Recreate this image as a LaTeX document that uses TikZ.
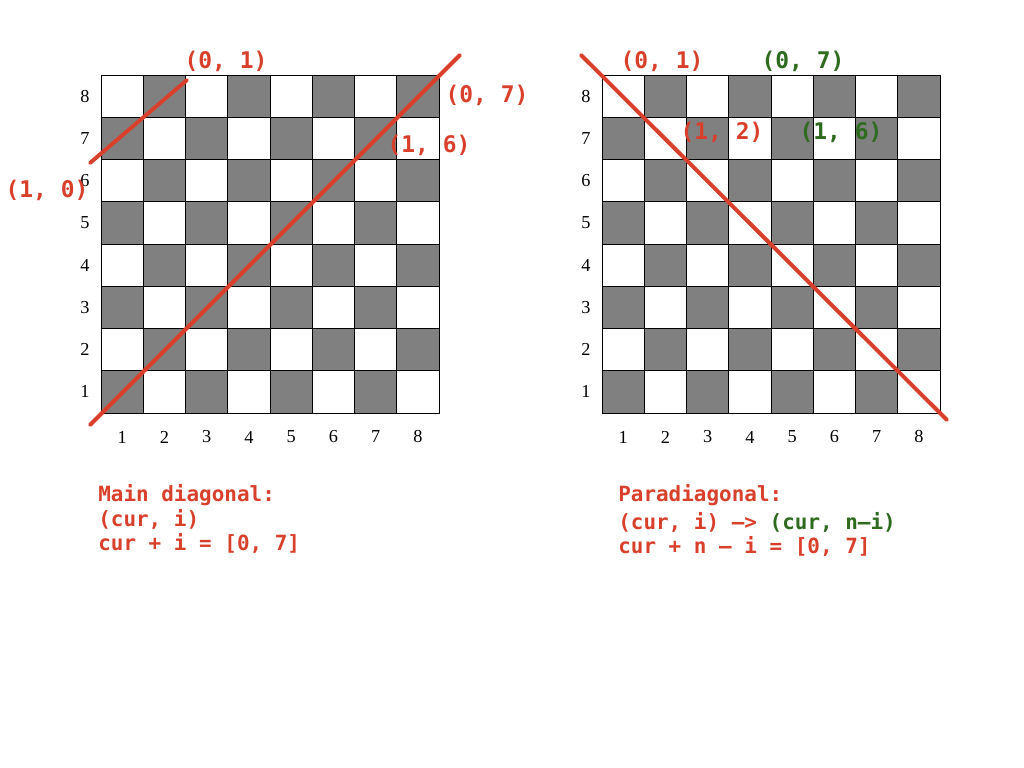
\documentclass[tikz,border=0pt]{standalone}
\usepackage{fontspec}
\setmainfont{Liberation Serif}
\setmonofont{DejaVu Sans Mono}
\usepackage{tikz}
\definecolor{rojo}{HTML}{D9402B}
\definecolor{verde}{HTML}{2E6B1E}
\definecolor{casilla}{HTML}{808080}

\begin{document}
\begin{tikzpicture}[
            x=0.025cm, y=-0.025cm,
            % Estilos
            celda/.style={draw=black, line width=0.6pt},
            num/.style={font=\fontsize{13}{15}\selectfont, inner sep=0pt},
            coord/.style={font=\fontsize{16.3}{18}\selectfont\ttfamily\bfseries, inner sep=0pt},
            nota/.style={font=\fontsize{14.9}{17}\selectfont\ttfamily\bfseries, inner sep=0pt, anchor=west},
            diag/.style={rojo, line width=2.8pt, line cap=round}
        ]
            \useasboundingbox (0,0) rectangle (1024,768);

            % Tableros de 8x8
            \foreach \ox/\tb in {101/a,602/b} {
                \foreach \c in {1,...,8} {
                    \foreach \r in {1,...,8} {
                        \pgfmathtruncatemacro\parity{mod(\c+\r,2)}
                        \ifnum\parity=0 \def\tono{casilla}\else\def\tono{white}\fi
                        \filldraw[celda, fill=\tono] ({\ox+(\c-1)*42.25},{413-(\r-1)*42.25}) rectangle ++(42.25,-42.25);
                    }
                    \node[num] (\tb-col\c) at ({\ox+(\c-0.5)*42.25},437) {\c};
                    \node[num] (\tb-fila\c) at ({\ox-16},{413-(\c-0.5)*42.25}) {\c};
                }
            }

            % Diagonales
            \coordinate (a-ini) at (90,425);
            \coordinate (a-fin) at (460,55);
            \coordinate (a2-ini) at (90,163);
            \coordinate (a2-fin) at (187,80);
            \coordinate (b-ini) at (581,55);
            \coordinate (b-fin) at (947,420);
            \draw[diag] (a-ini) -- (a-fin);
            \draw[diag] (a2-ini) -- (a2-fin);
            \draw[diag] (b-ini) -- (b-fin);

            % Coordenadas
            \node[coord, text=rojo] (a01) at (226,61) {(0, 1)};
            \node[coord, text=rojo] (a07) at (487,95) {(0, 7)};
            \node[coord, text=rojo] (a16) at (429,145) {(1, 6)};
            \node[coord, text=rojo] (a10) at (47,190) {(1, 0)};
            \node[coord, text=rojo] (b01) at (662,61) {(0, 1)};
            \node[coord, text=verde] (b07) at (803,61) {(0, 7)};
            \node[coord, text=rojo] (b12) at (722,132) {(1, 2)};
            \node[coord, text=verde] (b16) at (841,132) {(1, 6)};

            % Notas
            \node[nota, text=rojo] (ta1) at (98,495) {Main diagonal:};
            \node[nota, text=rojo] (ta2) at (98,519) {(cur, i)};
            \node[nota, text=rojo] (ta3) at (98,543) {cur + i = [0, 7]};
            \node[nota, text=rojo] (tb1) at (618,495) {Paradiagonal:};
            \node[nota, text=rojo] (tb2) at (618,522) {(cur, i) —> \textcolor{verde}{(cur, n–i)}};
            \node[nota, text=rojo] (tb3) at (618,546) {cur + n – i = [0, 7]};
        \end{tikzpicture}
\end{document}
